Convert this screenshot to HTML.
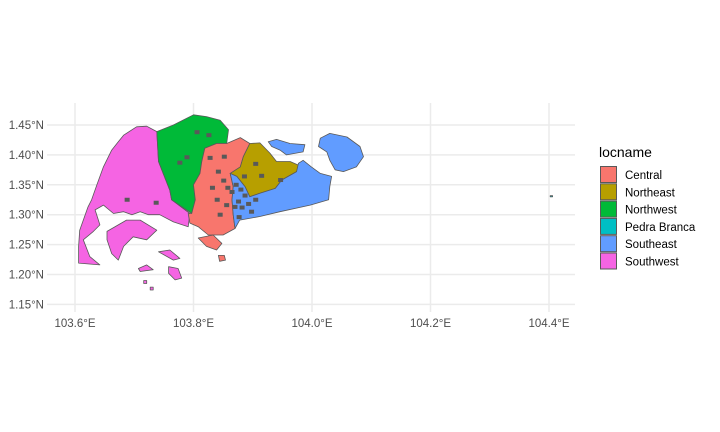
<!DOCTYPE html>
<html><head><meta charset="utf-8"><style>
body{margin:0;background:#fff;}
svg{display:block;font-family:"Liberation Sans",Arial,sans-serif;}
</style></head><body>
<svg id="chart" width="720" height="432" viewBox="0 0 720 432">
<g id="grid"></g>
<g id="regions"></g>
<g id="axes"></g>
<g id="legend"></g>
</svg>
<script>
const lonTicks=[103.6,103.8,104.0,104.2,104.4];
const lonTickLabels=["103.6°E","103.8°E","104.0°E","104.2°E","104.4°E"];
const latTicks=[1.45,1.40,1.35,1.30,1.25,1.20,1.15];
const latTickLabels=["1.45°N","1.40°N","1.35°N","1.30°N","1.25°N","1.20°N","1.15°N"];
const regionNames=["Central","Northeast","Northwest","Pedra Branca","Southeast","Southwest"];
const regionColors=["#F8766D","#B79F00","#00BA38","#00BFC4","#619CFF","#F564E3"];

const southwestMain=[[103.738,1.439],[103.721,1.448],[103.704,1.447],[103.682,1.433],[103.673,1.422],[103.662,1.408],[103.648,1.380],[103.637,1.350],[103.628,1.325],[103.622,1.313],[103.608,1.274],[103.606,1.247],[103.606,1.219],[103.642,1.216],[103.625,1.230],[103.614,1.258],[103.631,1.272],[103.642,1.283],[103.634,1.308],[103.648,1.316],[103.665,1.302],[103.682,1.305],[103.696,1.300],[103.710,1.305],[103.724,1.300],[103.743,1.300],[103.766,1.288],[103.791,1.280],[103.794,1.302],[103.763,1.325],[103.760,1.341],[103.741,1.389]];
const southwestIslands=[
[[103.654,1.272],[103.687,1.291],[103.710,1.291],[103.738,1.274],[103.721,1.258],[103.698,1.263],[103.682,1.247],[103.673,1.224],[103.662,1.235],[103.654,1.258]],
[[103.741,1.238],[103.760,1.241],[103.777,1.227],[103.766,1.224]],
[[103.758,1.213],[103.774,1.210],[103.780,1.194],[103.769,1.191],[103.758,1.202]],
[[103.707,1.210],[103.721,1.216],[103.732,1.208],[103.710,1.205]],
[[103.716,1.190],[103.721,1.190],[103.721,1.185],[103.716,1.185]],
[[103.727,1.179],[103.732,1.179],[103.732,1.174],[103.727,1.174]]];
const northwestMain=[[103.738,1.439],[103.766,1.450],[103.800,1.467],[103.822,1.464],[103.845,1.458],[103.859,1.442],[103.856,1.419],[103.839,1.419],[103.819,1.411],[103.814,1.389],[103.811,1.369],[103.800,1.350],[103.803,1.325],[103.797,1.302],[103.763,1.325],[103.760,1.341],[103.741,1.389]];
const centralMain=[[103.819,1.411],[103.839,1.419],[103.856,1.419],[103.879,1.429],[103.895,1.419],[103.884,1.397],[103.879,1.380],[103.862,1.369],[103.867,1.347],[103.865,1.325],[103.867,1.300],[103.870,1.277],[103.850,1.266],[103.825,1.266],[103.808,1.280],[103.794,1.286],[103.791,1.302],[103.797,1.302],[103.803,1.325],[103.800,1.350],[103.811,1.369],[103.814,1.389]];
const centralIslands=[[[103.808,1.261],[103.833,1.266],[103.848,1.252],[103.839,1.241],[103.822,1.247]],[[103.842,1.232],[103.852,1.232],[103.854,1.224],[103.844,1.222]]];
const northeastMain=[[103.895,1.419],[103.912,1.420],[103.929,1.403],[103.940,1.389],[103.963,1.389],[103.977,1.383],[103.974,1.372],[103.949,1.358],[103.938,1.344],[103.912,1.336],[103.895,1.330],[103.887,1.347],[103.873,1.364],[103.862,1.369],[103.879,1.380],[103.884,1.397]];
const southeastMain=[[103.862,1.369],[103.873,1.364],[103.887,1.347],[103.895,1.330],[103.912,1.336],[103.938,1.344],[103.949,1.358],[103.974,1.372],[103.977,1.386],[103.985,1.391],[103.999,1.380],[104.014,1.369],[104.033,1.364],[104.030,1.347],[104.028,1.325],[103.997,1.316],[103.946,1.305],[103.912,1.297],[103.878,1.291],[103.870,1.277],[103.867,1.300],[103.865,1.325],[103.867,1.347]];
const southeastIslands=[
[[103.926,1.422],[103.940,1.426],[103.963,1.419],[103.988,1.417],[103.985,1.405],[103.957,1.400],[103.946,1.408],[103.932,1.414]],
[[104.014,1.428],[104.030,1.436],[104.059,1.430],[104.081,1.414],[104.087,1.397],[104.075,1.380],[104.053,1.372],[104.039,1.375],[104.030,1.391],[104.025,1.405],[104.011,1.414]]];
const pedraBranca=[[[104.402,1.332],[104.406,1.332],[104.406,1.330],[104.402,1.330]]];
const subzoneMarks=[[103.842,1.372],[103.851,1.357],[103.858,1.345],[103.865,1.338],[103.872,1.350],[103.880,1.342],[103.887,1.332],[103.876,1.322],[103.882,1.312],[103.893,1.318],[103.905,1.325],[103.898,1.305],[103.870,1.313],[103.856,1.316],[103.832,1.345],[103.845,1.300],[103.828,1.395],[103.826,1.433],[103.806,1.438],[103.789,1.396],[103.777,1.387],[103.947,1.358],[103.915,1.365],[103.905,1.385],[103.852,1.397],[103.840,1.325],[103.886,1.364],[103.877,1.296],[103.688,1.325],[103.737,1.320]];

const X=lon=>75+(lon-103.6)*592.5;
const Y=lat=>125+(1.45-lat)*598;
const NS="http://www.w3.org/2000/svg";
function mk(tag,attrs,parent){const e=document.createElementNS(NS,tag);for(const k in attrs)e.setAttribute(k,attrs[k]);parent.appendChild(e);return e;}
const grid=document.getElementById('grid'),axes=document.getElementById('axes'),regions=document.getElementById('regions'),legend=document.getElementById('legend');

lonTicks.forEach((t,i)=>{
  const l=mk('line',{x1:X(t),x2:X(t),y1:103,y2:312,stroke:'#ebebeb','stroke-width':1.5},grid);
  
  
  const tx=mk('text',{x:X(t),y:327,'text-anchor':'middle','font-size':11.5,fill:'#4d4d4d'},axes);
  tx.textContent=lonTickLabels[i];
  
  
});
latTicks.forEach((t,i)=>{
  const l=mk('line',{x1:47,x2:575,y1:Y(t),y2:Y(t),stroke:'#ebebeb','stroke-width':1.5},grid);
  
  
  const tx=mk('text',{x:44,y:Y(t)+4,'text-anchor':'end','font-size':11.5,fill:'#4d4d4d'},axes);
  tx.textContent=latTickLabels[i];
  
  
});

function poly(pts,color,name){
  const p=mk('polygon',{points:pts.map(q=>X(q[0]).toFixed(1)+','+Y(q[1]).toFixed(1)).join(' '),fill:color,stroke:'#595959','stroke-width':0.8,'stroke-linejoin':'round'},regions);
  
  
}
poly(southwestMain,regionColors[5],'region-southwest');
southwestIslands.forEach(s=>poly(s,regionColors[5],'region-southwest-island'));
poly(northwestMain,regionColors[2],'region-northwest');
poly(centralMain,regionColors[0],'region-central');
centralIslands.forEach(s=>poly(s,regionColors[0],'region-central-island'));
poly(northeastMain,regionColors[1],'region-northeast');
poly(southeastMain,regionColors[4],'region-southeast');
southeastIslands.forEach(s=>poly(s,regionColors[4],'region-southeast-island'));
pedraBranca.forEach(s=>poly(s,regionColors[3],'region-pedra-branca'));
subzoneMarks.forEach(m=>{
  const r=mk('rect',{x:X(m[0])-2.5,y:Y(m[1])-2,width:5,height:4,fill:'#595959'},regions);
  
  
});

const title=mk('text',{x:599,y:157,'font-size':14,fill:'#000'},legend);
title.textContent='locname';


regionNames.forEach((n,i)=>{
  const y=166+i*17.3;
  const r=mk('rect',{x:600.5,y:y+0.5,width:16,height:16,fill:regionColors[i],stroke:'#595959','stroke-width':1},legend);
  
  
  const t=mk('text',{x:625,y:y+13,'font-size':11.5,fill:'#000'},legend);
  t.textContent=n;
  
  
});
</script>
</body></html>
